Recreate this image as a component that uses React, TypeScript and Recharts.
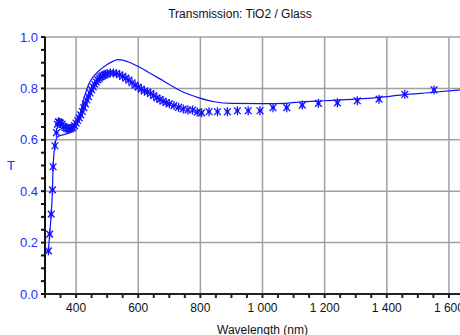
import React from 'react';
import {
  ComposedChart,
  Line,
  Scatter,
  XAxis,
  YAxis,
  ReferenceLine,
  Label,
} from 'recharts';

// Measured transmission (asterisks)
const measuredWl = [
  311, 315, 320, 324, 326, 332, 337, 340, 343, 346, 350, 355, 360, 365, 370, 375, 380, 385, 390, 395,
  400, 405, 410, 415, 420, 425, 430, 435, 440, 445, 450, 455, 460, 465, 470, 475, 480, 485, 490, 495,
  500, 510, 520, 530, 540, 550, 560, 570, 580, 590, 600, 610, 620, 630, 640, 650, 660, 670, 680, 690,
  700, 715, 730, 745, 760, 775, 790, 804, 828, 855, 887, 919, 954, 992, 1034, 1078, 1128, 1180, 1241,
  1305, 1375, 1458, 1552,
];
const measuredT = [
  0.168, 0.233, 0.311, 0.405, 0.495, 0.577, 0.628, 0.66, 0.67, 0.668, 0.665, 0.66, 0.652, 0.648, 0.645, 0.642, 0.642, 0.645, 0.648, 0.655,
  0.665, 0.675, 0.685, 0.697, 0.71, 0.725, 0.74, 0.755, 0.768, 0.782, 0.795, 0.806, 0.816, 0.825, 0.833, 0.839, 0.845, 0.849, 0.852, 0.855,
  0.857, 0.86, 0.86, 0.858, 0.853, 0.847, 0.84, 0.832, 0.822, 0.813, 0.805, 0.797, 0.79, 0.786, 0.78, 0.772, 0.763, 0.757, 0.75, 0.745,
  0.74, 0.733, 0.726, 0.72, 0.716, 0.716, 0.708, 0.705, 0.709, 0.709, 0.709, 0.713, 0.713, 0.713, 0.725, 0.725, 0.735, 0.742, 0.744,
  0.752, 0.758, 0.777, 0.794,
];

// Fitted curve (solid line)
const fitWl = [
  311, 315, 320, 324, 326, 332, 337, 345, 360, 385, 400, 410, 425, 442, 460, 480, 500, 520, 535, 550,
  575, 600, 630, 667, 700, 731, 760, 796, 850, 900, 1000, 1075, 1128, 1200, 1300, 1375, 1450, 1550, 1640,
];
const fitT = [
  0.168, 0.233, 0.311, 0.405, 0.495, 0.577, 0.605, 0.615, 0.62, 0.632, 0.655, 0.69, 0.76, 0.82, 0.852, 0.875, 0.893, 0.906, 0.912, 0.91,
  0.9, 0.885, 0.865, 0.839, 0.815, 0.794, 0.778, 0.763, 0.747, 0.742, 0.741, 0.742, 0.748, 0.752, 0.758, 0.765, 0.775, 0.785, 0.795,
];

const xTicks = [300, 350, 400, 450, 500, 550, 600, 650, 700, 750, 800, 850, 900, 950, 1000, 1050, 1100, 1150, 1200, 1250, 1300, 1350, 1400, 1450, 1500, 1550, 1600, 1650];
const xGrid = [400, 600, 800, 1000, 1200, 1400, 1600];
const xLabels = ['400', '600', '800', '1 000', '1 200', '1 400', '1 600'];
const yTicks = [0, 0.05, 0.1, 0.15, 0.2, 0.25, 0.3, 0.35, 0.4, 0.45, 0.5, 0.55, 0.6, 0.65, 0.7, 0.75, 0.8, 0.85, 0.9, 0.95, 1.0];
const yGrid = [0.2, 0.4, 0.6, 0.8, 1.0];
const yLabels = ['0.2', '0.4', '0.6', '0.8', '1.0'];

const measured = measuredWl.map((wl, i) => ({ wl, t: measuredT[i] }));
const fit = fitWl.map((wl, i) => ({ wl, t: fitT[i] }));

const BLUE = '#1111ff';
const FONT = '"Liberation Sans", Arial, sans-serif';

// asterisk marker like the original plotting software
const Asterisk = (props: any) => {
  const { cx, cy } = props;
  const r = 4.5;
  const d = r * 0.75;
  return (
    <g stroke={BLUE} strokeWidth={1.3}>
      <line x1={cx} y1={cy - r} x2={cx} y2={cy + r} />
      <line x1={cx - d} y1={cy - d} x2={cx + d} y2={cy + d} />
      <line x1={cx - d} y1={cy + d} x2={cx + d} y2={cy - d} />
      <line x1={cx - 2} y1={cy} x2={cx + 2} y2={cy} />
    </g>
  );
};

const xFmt = (v: number) => {
  const i = xGrid.indexOf(v);
  return i >= 0 ? xLabels[i] : '';
};
const yFmt = (v: number) => {
  if (Math.abs(v) < 1e-9) return '0.0';
  const i = yGrid.findIndex((g) => Math.abs(g - v) < 1e-9);
  return i >= 0 ? yLabels[i] : '';
};

export default function App() {
  return (
    <div style={{ position: 'absolute', left: 0, top: 0, width: 460, height: 335, overflow: 'hidden', background: '#fff' }}>
      <div
        style={{
          position: 'absolute',
          top: 7,
          left: 140,
          width: 200,
          textAlign: 'center',
          fontFamily: FONT,
          fontSize: 12,
          color: '#111',
        }}
      >
        Transmission: TiO2 / Glass
      </div>
      <ComposedChart width={482} height={335} margin={{ top: 37, right: 2, bottom: 0, left: 0 }}>
        {xGrid.map((x) => (
          <ReferenceLine key={'gx' + x} x={x} stroke="#a0a0a0" strokeWidth={1.5} />
        ))}
        {yGrid.map((y) => (
          <ReferenceLine key={'gy' + y} y={y} stroke="#a0a0a0" strokeWidth={1.5} />
        ))}
        <XAxis
          type="number"
          dataKey="wl"
          domain={[300, 1700]}
          ticks={xTicks}
          tickFormatter={xFmt}
          interval={0}
          allowDataOverflow
          height={41}
          tickSize={4}
          tickMargin={5}
          stroke="#222"
          strokeWidth={2}
          tick={{ fill: '#111', fontSize: 12, fontFamily: FONT }}
        >
          <Label value="Wavelength (nm)" position="insideBottom" offset={1} style={{ fill: '#111', fontSize: 12, fontFamily: FONT }} />
        </XAxis>
        <YAxis
          type="number"
          dataKey="t"
          domain={[0, 1]}
          ticks={yTicks}
          tickFormatter={yFmt}
          interval={0}
          width={45}
          tickSize={4}
          tickMargin={3}
          stroke="#111"
          strokeWidth={2}
          tick={{ fill: '#2a2aff', fontSize: 13, fontFamily: FONT }}
        >
          <Label value="T" angle={0} position="insideLeft" offset={7} style={{ fill: '#2a2aff', fontSize: 13, fontFamily: FONT }} />
        </YAxis>
        <Line
          data={fit}
          dataKey="t"
          type="monotone"
          stroke={BLUE}
          strokeWidth={1.2}
          dot={false}
          activeDot={false}
          isAnimationActive={false}
        />
        <Scatter data={measured} dataKey="t" shape={<Asterisk />} isAnimationActive={false} />
      </ComposedChart>
    </div>
  );
}
